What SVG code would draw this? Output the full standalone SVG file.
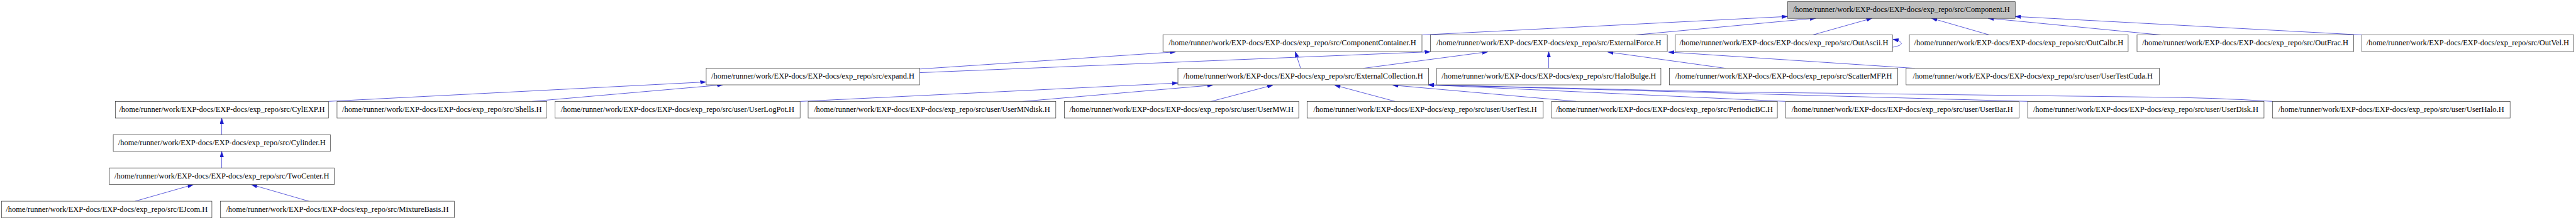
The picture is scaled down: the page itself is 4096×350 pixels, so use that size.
<svg xmlns="http://www.w3.org/2000/svg" width="4096" height="350" viewBox="0 0 4096 350">
<style>
.n rect{fill:#ffffff;stroke:#333333;stroke-width:0.7}
.n.root rect{fill:#bfbfbf}
.n text{font-family:"Liberation Serif","Times New Roman",serif;font-size:12.45px;fill:#000000;text-anchor:middle}
.e path{fill:none;stroke:#1a1acc;stroke-width:0.7;stroke-linejoin:round}
</style>
<defs>
<marker id="ah" markerUnits="userSpaceOnUse" markerWidth="9" markerHeight="6" viewBox="0 0 8.3 5.5" refX="8.3" refY="2.75" orient="auto">
<path d="M0,0 L8.3,2.75 L0,5.5 z" fill="#1a1acc" stroke="#1a1acc" stroke-width="0.4"/>
</marker>
</defs>
<rect width="4096" height="350" fill="#ffffff"/>
<g id="edges" class="e" marker-end="url(#ah)">
<path d="M2261.0,55.6 L2842.3,26.2" marker-end="url(#ah)"/>
<path d="M2600.1,55.6 L2887.2,29.0" marker-end="url(#ah)"/>
<path d="M2882.3,55.6 L2976.7,29.0" marker-end="url(#ah)"/>
<path d="M3163.4,55.6 L3071.2,29.0" marker-end="url(#ah)"/>
<path d="M3435.7,55.6 L3161.1,29.0" marker-end="url(#ah)"/>
<path d="M3755.4,55.6 L3204.3,26.2" marker-end="url(#ah)"/>
<path d="M3009.2,75.1 C3018,73.5 3024,71.5 3023.2,68.8 C3022.5,66 3017,63.8 3009.8,62.6" marker-end="url(#ah)"/>
<path d="M1462.2,109.8 L1869.4,82.6" marker-end="url(#ah)"/>
<path d="M1462.2,115.6 L2274.5,82.4" marker-end="url(#ah)"/>
<path d="M522.3,161.3 L1122.5,130.4" marker-end="url(#ah)"/>
<path d="M846.2,161.3 L1149.4,134.9" marker-end="url(#ah)"/>
<path d="M352.6,214.3 L352.6,187.9" marker-end="url(#ah)"/>
<path d="M352.6,267.2 L352.6,241.0" marker-end="url(#ah)"/>
<path d="M214.9,320.1 L307.5,293.7" marker-end="url(#ah)"/>
<path d="M490.9,320.1 L399.7,293.7" marker-end="url(#ah)"/>
<path d="M1272.3,161.4 L1872.8,132.1" marker-end="url(#ah)"/>
<path d="M1626.0,161.4 L1928.5,135.4" marker-end="url(#ah)"/>
<path d="M1925.6,161.4 L2024.0,135.4" marker-end="url(#ah)"/>
<path d="M2068.1,108.7 L2059.5,82.1" marker-end="url(#ah)"/>
<path d="M2167.4,108.7 L2366.0,82.4" marker-end="url(#ah)"/>
<path d="M2462.6,108.6 L2462.6,82.1" marker-end="url(#ah)"/>
<path d="M2744.0,108.7 L2556.2,82.65" marker-end="url(#ah)"/>
<path d="M3044.8,108.7 L2652.8,82.8" marker-end="url(#ah)"/>
<path d="M2218.3,161.3 L2122.2,135.5" marker-end="url(#ah)"/>
<path d="M2506.5,161.3 L2214.5,135.5" marker-end="url(#ah)"/>
<path d="M2838.4,161.3 L2271.2,135.0" marker-end="url(#ah)"/>
<path d="M3224.1,161.3 L2271.2,135.0" marker-end="url(#ah)"/>
<path d="M3613.3,161.3 Q3520,155.2 3416.2,154.4 L2738.5,146.2 L2271.2,135.0" marker-end="url(#ah)"/>
</g>
<g id="Component" class="n root"><rect x="2842.3" y="2.7" width="362.0" height="26.5"/><text x="3023.3" y="19.15">/home/runner/work/EXP-docs/EXP-docs/exp_repo/src/Component.H</text></g>
<g id="ComponentContainer" class="n"><rect x="1849.2" y="55.6" width="411.8" height="26.5"/><text x="2055.1" y="72.05">/home/runner/work/EXP-docs/EXP-docs/exp_repo/src/ComponentContainer.H</text></g>
<g id="ExternalForce" class="n"><rect x="2274.6" y="55.6" width="376.5" height="26.5"/><text x="2462.85" y="72.05">/home/runner/work/EXP-docs/EXP-docs/exp_repo/src/ExternalForce.H</text></g>
<g id="OutAscii" class="n"><rect x="2663.8" y="55.6" width="345.4" height="26.5"/><text x="2836.5" y="72.05">/home/runner/work/EXP-docs/EXP-docs/exp_repo/src/OutAscii.H</text></g>
<g id="OutCalbr" class="n"><rect x="3036.0" y="55.6" width="347.9" height="26.5"/><text x="3209.95" y="72.05">/home/runner/work/EXP-docs/EXP-docs/exp_repo/src/OutCalbr.H</text></g>
<g id="OutFrac" class="n"><rect x="3398.0" y="55.6" width="344.4" height="26.5"/><text x="3570.2" y="72.05">/home/runner/work/EXP-docs/EXP-docs/exp_repo/src/OutFrac.H</text></g>
<g id="OutVel" class="n"><rect x="3755.4" y="55.6" width="337.1" height="26.5"/><text x="3923.95" y="72.05">/home/runner/work/EXP-docs/EXP-docs/exp_repo/src/OutVel.H</text></g>
<g id="expand" class="n"><rect x="1122.9" y="108.5" width="339.3" height="26.5"/><text x="1292.55" y="124.95">/home/runner/work/EXP-docs/EXP-docs/exp_repo/src/expand.H</text></g>
<g id="ExternalCollection" class="n"><rect x="1873.0" y="108.5" width="398.6" height="26.5"/><text x="2072.3" y="124.95">/home/runner/work/EXP-docs/EXP-docs/exp_repo/src/ExternalCollection.H</text></g>
<g id="HaloBulge" class="n"><rect x="2284.7" y="108.5" width="356.2" height="26.5"/><text x="2462.8" y="124.95">/home/runner/work/EXP-docs/EXP-docs/exp_repo/src/HaloBulge.H</text></g>
<g id="ScatterMFP" class="n"><rect x="2654.5" y="108.5" width="363.1" height="26.5"/><text x="2836.05" y="124.95">/home/runner/work/EXP-docs/EXP-docs/exp_repo/src/ScatterMFP.H</text></g>
<g id="UserTestCuda" class="n"><rect x="3030.8" y="108.5" width="402.8" height="26.5"/><text x="3232.2" y="124.95">/home/runner/work/EXP-docs/EXP-docs/exp_repo/src/user/UserTestCuda.H</text></g>
<g id="CylEXP" class="n"><rect x="183.6" y="161.4" width="338.7" height="26.5"/><text x="352.95" y="177.85">/home/runner/work/EXP-docs/EXP-docs/exp_repo/src/CylEXP.H</text></g>
<g id="Shells" class="n"><rect x="535.9" y="161.4" width="333.6" height="26.5"/><text x="702.7" y="177.85">/home/runner/work/EXP-docs/EXP-docs/exp_repo/src/Shells.H</text></g>
<g id="UserLogPot" class="n"><rect x="882.6" y="161.4" width="389.6" height="26.5"/><text x="1077.4" y="177.85">/home/runner/work/EXP-docs/EXP-docs/exp_repo/src/user/UserLogPot.H</text></g>
<g id="UserMNdisk" class="n"><rect x="1285.0" y="161.4" width="393.8" height="26.5"/><text x="1481.9" y="177.85">/home/runner/work/EXP-docs/EXP-docs/exp_repo/src/user/UserMNdisk.H</text></g>
<g id="UserMW" class="n"><rect x="1692.4" y="161.4" width="372.7" height="26.5"/><text x="1878.75" y="177.85">/home/runner/work/EXP-docs/EXP-docs/exp_repo/src/user/UserMW.H</text></g>
<g id="UserTest" class="n"><rect x="2078.3" y="161.4" width="375.5" height="26.5"/><text x="2266.05" y="177.85">/home/runner/work/EXP-docs/EXP-docs/exp_repo/src/user/UserTest.H</text></g>
<g id="PeriodicBC" class="n"><rect x="2467.0" y="161.4" width="359.1" height="26.5"/><text x="2646.55" y="177.85">/home/runner/work/EXP-docs/EXP-docs/exp_repo/src/PeriodicBC.H</text></g>
<g id="UserBar" class="n"><rect x="2839.2" y="161.4" width="371.2" height="26.5"/><text x="3024.8" y="177.85">/home/runner/work/EXP-docs/EXP-docs/exp_repo/src/user/UserBar.H</text></g>
<g id="UserDisk" class="n"><rect x="3224.1" y="161.4" width="375.8" height="26.5"/><text x="3412.0" y="177.85">/home/runner/work/EXP-docs/EXP-docs/exp_repo/src/user/UserDisk.H</text></g>
<g id="UserHalo" class="n"><rect x="3613.3" y="161.4" width="377.9" height="26.5"/><text x="3802.25" y="177.85">/home/runner/work/EXP-docs/EXP-docs/exp_repo/src/user/UserHalo.H</text></g>
<g id="Cylinder" class="n"><rect x="180.1" y="214.3" width="345.2" height="26.5"/><text x="352.7" y="230.75">/home/runner/work/EXP-docs/EXP-docs/exp_repo/src/Cylinder.H</text></g>
<g id="TwoCenter" class="n"><rect x="174.0" y="267.2" width="357.5" height="26.5"/><text x="352.75" y="283.65">/home/runner/work/EXP-docs/EXP-docs/exp_repo/src/TwoCenter.H</text></g>
<g id="EJcom" class="n"><rect x="2.6" y="320.1" width="334.3" height="26.5"/><text x="169.75" y="336.55">/home/runner/work/EXP-docs/EXP-docs/exp_repo/src/EJcom.H</text></g>
<g id="MixtureBasis" class="n"><rect x="350.5" y="320.1" width="371.9" height="26.5"/><text x="536.45" y="336.55">/home/runner/work/EXP-docs/EXP-docs/exp_repo/src/MixtureBasis.H</text></g>
</svg>
